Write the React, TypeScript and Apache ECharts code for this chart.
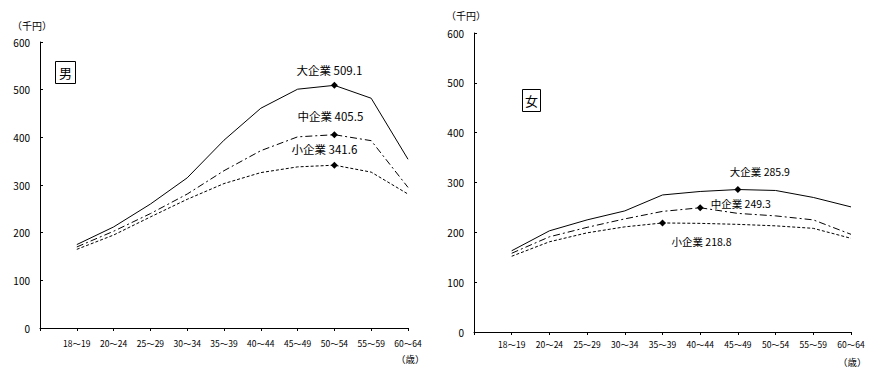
import React, { useEffect, useRef } from "react";
import * as echarts from "echarts";

const ageGroups = ["18～19", "20～24", "25～29", "30～34", "35～39", "40～44", "45～49", "50～54", "55～59", "60～64"];
const sizeNames = ["大企業", "中企業", "小企業"];
const menLarge = [175, 212, 260, 315, 394, 461, 501, 509.1, 482, 354];
const menMedium = [170, 203, 240, 281, 330, 372, 401, 405.5, 393, 295];
const menSmall = [165, 195, 233, 270, 303, 326, 338, 341.6, 327, 281];
const womenLarge = [163, 203, 225, 243, 275, 282, 285.9, 284, 270, 251];
const womenMedium = [158, 191, 210, 227, 242, 249.3, 238, 233, 225, 196];
const womenSmall = [152, 181, 199, 211, 218.8, 218, 216, 213, 208, 188];
const menPeakIndex = [7, 7, 7];
const womenPeakIndex = [6, 5, 4];
const yMin = 0;
const yMax = 600;
const yStep = 100;

const FONT = "'Noto Sans CJK JP', 'DejaVu Sans', sans-serif";
const lineTypes: any[] = ["solid", [7, 3, 2, 3], [3, 2]];

export default function App() {
  const ref = useRef<HTMLDivElement>(null);
  useEffect(() => {
    if (!ref.current) return;
    const chart = echarts.init(ref.current, undefined, { renderer: "svg" });
    const xData = ["", ...ageGroups];

    const labelCfg = [
      [
        { position: "top", offset: [-5, -1], fontSize: 11.5 },
        { position: "top", offset: [-4, -4], fontSize: 11.5 },
        { position: "top", offset: [-10, -2], fontSize: 11.5 },
      ],
      [
        { position: "top", offset: [22, -4], fontSize: 10.5 },
        { position: "right", offset: [2, -4], fontSize: 10.5 },
        { position: "bottom", offset: [39, 5], fontSize: 10.5 },
      ],
    ];

    const makeSeries = (vals: number[], gi: number, si: number, peak: number) => ({
      type: "line",
      xAxisIndex: gi,
      yAxisIndex: gi,
      symbol: "none",
      showSymbol: true,
      silent: true,
      lineStyle: { color: "#000", width: 1, type: lineTypes[si] },
      itemStyle: { color: "#000" },
      data: [null, ...vals].map((v, i) => {
        if (i - 1 === peak) {
          const c: any = labelCfg[gi][si];
          return {
            value: v,
            symbol: "diamond",
            symbolSize: 7,
            label: {
              show: true,
              position: c.position,
              offset: c.offset,
              distance: 5,
              formatter: `${sizeNames[si]} ${(v as number).toFixed(1)}`,
              color: "#000",
              fontSize: c.fontSize,
              fontFamily: FONT,
            },
          };
        }
        return v;
      }),
    });

    const xAxisCommon = {
      type: "category",
      boundaryGap: false,
      data: xData,
      axisLine: { lineStyle: { color: "#000", width: 1 } },
      axisTick: { show: true, length: 3, inside: false, lineStyle: { color: "#000" } },
      axisLabel: { color: "#000", fontSize: 8.5, fontFamily: FONT, interval: 0 },
      splitLine: { show: false },
    };
    const yAxisCommon = {
      type: "value",
      min: yMin,
      max: yMax,
      interval: yStep,
      axisLine: { show: true, lineStyle: { color: "#000", width: 1 } },
      axisTick: { show: true, length: 3, inside: true, lineStyle: { color: "#000" } },
      axisLabel: { color: "#000", fontSize: 10, fontFamily: FONT, margin: 10 },
      splitLine: { show: false },
    };

    chart.setOption({
      animation: false,
      backgroundColor: "#fff",
      grid: [
        { left: 40, top: 42, width: 368, height: 286 },
        { left: 474, top: 33, width: 377, height: 299 },
      ],
      xAxis: [
        { ...xAxisCommon, gridIndex: 0, axisLabel: { ...xAxisCommon.axisLabel, margin: 11 } },
        { ...xAxisCommon, gridIndex: 1, axisLabel: { ...xAxisCommon.axisLabel, margin: 8 } },
      ],
      yAxis: [
        { ...yAxisCommon, gridIndex: 0 },
        { ...yAxisCommon, gridIndex: 1 },
      ],
      series: [
        makeSeries(menLarge, 0, 0, menPeakIndex[0]),
        makeSeries(menMedium, 0, 1, menPeakIndex[1]),
        makeSeries(menSmall, 0, 2, menPeakIndex[2]),
        makeSeries(womenLarge, 1, 0, womenPeakIndex[0]),
        makeSeries(womenMedium, 1, 1, womenPeakIndex[1]),
        makeSeries(womenSmall, 1, 2, womenPeakIndex[2]),
      ],
      graphic: [
        { type: "text", left: 12, top: 20, style: { text: "（千円）", fontSize: 10, fontFamily: FONT, fill: "#000" } },
        { type: "text", left: 446, top: 10, style: { text: "（千円）", fontSize: 10, fontFamily: FONT, fill: "#000" } },
        { type: "text", left: 396, top: 354, style: { text: "（歳）", fontSize: 9.5, fontFamily: FONT, fill: "#000" } },
        { type: "text", left: 838, top: 357, style: { text: "（歳）", fontSize: 9.5, fontFamily: FONT, fill: "#000" } },
        { type: "rect", shape: { x: 55.5, y: 61.5, width: 20, height: 22 }, style: { fill: "#fff", stroke: "#000", lineWidth: 1 } },
        { type: "text", x: 65.5, y: 72.5, style: { text: "男", fontSize: 13, fontFamily: FONT, fill: "#000", align: "center", verticalAlign: "middle" } },
        { type: "rect", shape: { x: 522.5, y: 89.5, width: 18, height: 22 }, style: { fill: "#fff", stroke: "#000", lineWidth: 1 } },
        { type: "text", x: 531.5, y: 100.5, style: { text: "女", fontSize: 13, fontFamily: FONT, fill: "#000", align: "center", verticalAlign: "middle" } },
      ],
    });
    return () => chart.dispose();
  }, []);
  return <div ref={ref} style={{ position: "fixed", left: 0, top: 0, width: 871, height: 375 }} />;
}
